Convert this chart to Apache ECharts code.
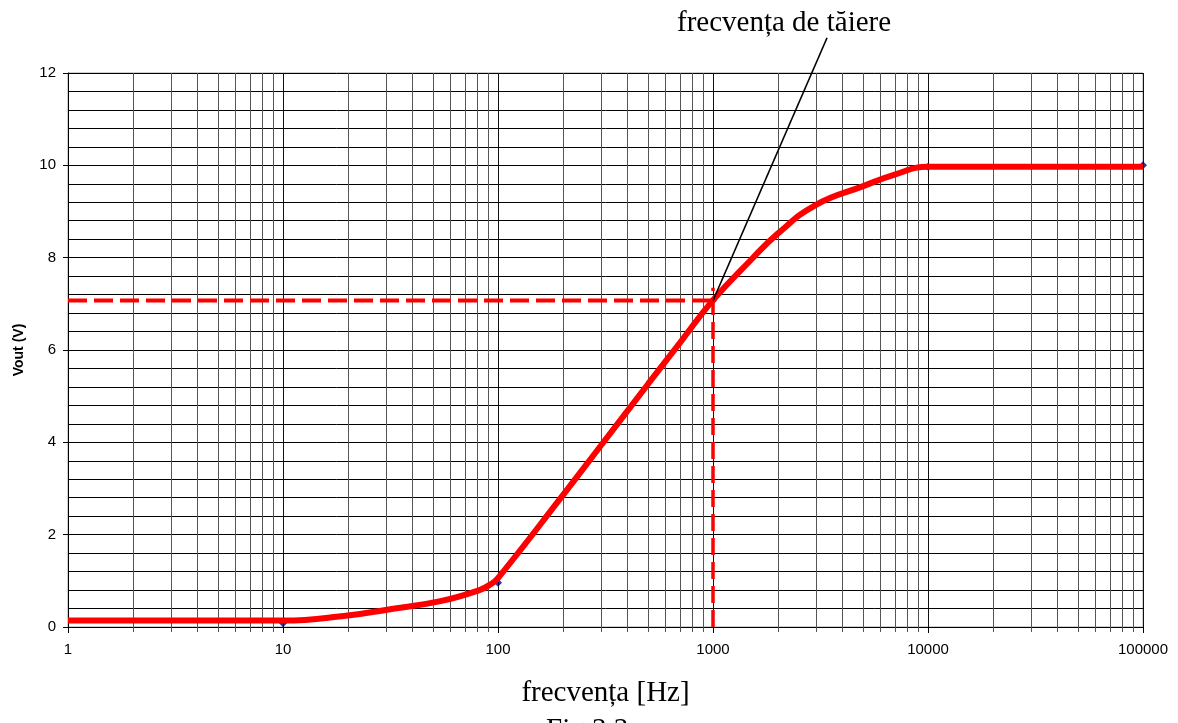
<!DOCTYPE html>
<html>
<head>
<meta charset="utf-8">
<script src="https://cdn.jsdelivr.net/npm/echarts@6/dist/echarts.min.js"></script>
<style>html,body{margin:0;padding:0;background:#fff}#c{width:1178px;height:723px}</style>
</head>
<body>
<div id="c"></div>
<script>
// measured points (blue markers)
const pointFreq = [10, 100, 1000, 10000, 100000];
const pointVout = [0.08, 0.96, 7.07, 9.97, 10.0];
// hand-drawn red curve
const curveFreq = [1, 10, 20, 30, 54, 82, 92, 100, 200, 300, 500, 700, 1000, 1500, 2000, 3000, 5000, 7000, 10000, 100000];
const curveVout = [0.14, 0.14, 0.25, 0.37, 0.56, 0.8, 0.92, 1.06, 2.85, 3.92, 5.27, 6.15, 7.08, 7.95, 8.52, 9.14, 9.55, 9.8, 9.97, 9.97];
// cutoff level
const cutoffFreq = 1000;
const cutoffVout = 7.07;
const cutoffTop = 7.35;
// annotation leader line top end
const leaderEnd = [3390, 12.76];
const xTickLabels = ['1', '10', '100', '1000', '10000', '100000'];
const yTickLabels = [0, 2, 4, 6, 8, 10, 12];
const annotationText = 'frecvența de tăiere';
const xTitle = 'frecvența [Hz]';
const yTitle = 'Vout (V)';
const figText = 'Fig.3.3';

const decades = [1, 10, 100, 1000, 10000];
const minorMult = [2, 3, 4, 5, 6, 7, 8, 9];
const minorGrid = [];
decades.forEach(d => minorMult.forEach(m => minorGrid.push([d * m, 0])));

const chart = echarts.init(document.getElementById('c'));
chart.setOption({
  animation: false,
  grid: { left: 68, right: 35, top: 73, bottom: 96, show: true, borderColor: '#a0a0a0', borderWidth: 1 },
  xAxis: {
    type: 'log', logBase: 10, min: 1, max: 100000,
    axisLine: { show: true, lineStyle: { color: '#000', width: 1 } },
    axisTick: { show: true, length: 6, lineStyle: { color: '#000' } },
    axisLabel: { color: '#000', fontFamily: 'Liberation Sans, Arial', fontSize: 15, margin: 15,
      formatter: v => xTickLabels[Math.round(Math.log10(v))] },
    splitLine: { show: true, lineStyle: { color: '#111', width: 1 } },
    minorTick: { show: false }, minorSplitLine: { show: false },
    name: xTitle, nameLocation: 'middle', nameGap: 52,
    nameTextStyle: { fontFamily: 'Liberation Serif, Times New Roman', fontSize: 29, color: '#000' }
  },
  yAxis: {
    type: 'value', min: 0, max: 12, interval: 2,
    axisLine: { show: true, lineStyle: { color: '#000', width: 1 } },
    axisTick: { show: true, length: 5, lineStyle: { color: '#000' } },
    axisLabel: { color: '#000', fontFamily: 'Liberation Sans, Arial', fontSize: 15, margin: 12,
      formatter: v => String(yTickLabels[Math.round(v / 2)]) },
    splitLine: { show: true, lineStyle: { color: '#000', width: 1 } },
    minorTick: { show: false, splitNumber: 5 },
    minorSplitLine: { show: true, lineStyle: { color: '#000', width: 1 } },
    name: yTitle, nameLocation: 'middle', nameGap: 42, nameRotate: 90,
    nameTextStyle: { fontFamily: 'Liberation Sans, Arial', fontSize: 14, fontWeight: 'bold', color: '#000' }
  },
  series: [
    {
      type: 'custom', silent: true, clip: false, z: 1,
      data: minorGrid,
      encode: { x: 0, y: 1 },
      renderItem: (params, api) => {
        const x = api.value(0);
        const p0 = api.coord([x, 0]);
        const p1 = api.coord([x, 12]);
        const px = Math.round(p0[0]) + 0.5;
        return { type: 'line', shape: { x1: px, y1: p0[1] + 5, x2: px, y2: p1[1] },
          style: { stroke: '#555', lineWidth: 1 } };
      }
    },
    {
      type: 'line', silent: true, z: 3, symbol: 'none',
      data: [[1, cutoffVout], [cutoffFreq, cutoffVout]],
      lineStyle: { color: '#ff0000', width: 4, type: [19, 7] }
    },
    {
      type: 'line', silent: true, z: 3, symbol: 'none',
      data: [[cutoffFreq, 0], [cutoffFreq, cutoffTop]],
      lineStyle: { color: '#ff0000', width: 3.5, type: [17, 7] }
    },
    {
      type: 'scatter', silent: true, z: 4, symbol: 'diamond', symbolSize: 8,
      data: pointFreq.map((f, i) => [f, pointVout[i]]),
      itemStyle: { color: '#000080' }
    },
    {
      type: 'line', silent: true, z: 5, symbol: 'none', smooth: 0.45,
      data: curveFreq.map((f, i) => [f, curveVout[i]]),
      lineStyle: { color: '#ff0000', width: 6 }
    },
    {
      type: 'line', silent: true, z: 6, symbol: 'none', clip: false,
      data: [[cutoffFreq, cutoffVout], leaderEnd],
      lineStyle: { color: '#000', width: 1.5 }
    }
  ],
  graphic: [
    { type: 'text', left: 677, top: 9, silent: true,
      style: { text: annotationText, fontFamily: 'Liberation Serif, Times New Roman', fontSize: 29, fill: '#000' } },
    { type: 'text', left: 546, top: 716, silent: true,
      style: { text: figText, fontFamily: 'Liberation Serif, Times New Roman', fontSize: 29, fill: '#000' } }
  ]
});
</script>
</body>
</html>
